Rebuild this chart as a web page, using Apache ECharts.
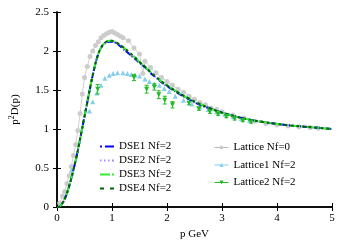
<!DOCTYPE html>
<html><head><meta charset="utf-8">
<script src="https://cdn.jsdelivr.net/npm/echarts@6/dist/echarts.min.js"></script>
<style>html,body{margin:0;padding:0;background:#fff}#c{width:350px;height:245px}</style>
</head><body><div id="c"></div>
<script>
// ---- data ----
var xTicks = [0, 1, 2, 3, 4, 5];
var yTicks = [0, 0.5, 1, 1.5, 2, 2.5];
var dseP = [0,0.05,0.1,0.15,0.2,0.25,0.3,0.35,0.4,0.45,0.5,0.55,0.6,0.65,0.7,0.75,0.8,0.85,0.9,0.95,1.0,1.05,1.1,1.2,1.3,1.4,1.5,1.6,1.7,1.8,1.9,2.0,2.2,2.4,2.6,2.8,3.0,3.25,3.5,3.75,4.0,4.25,4.5,4.75,5.0];
var dse1 = [0,0.01,0.05,0.12,0.22,0.34,0.48,0.63,0.80,0.98,1.16,1.34,1.52,1.69,1.84,1.96,2.04,2.09,2.11,2.12,2.12,2.11,2.09,2.03,1.97,1.91,1.85,1.79,1.72,1.66,1.60,1.55,1.46,1.38,1.31,1.26,1.21,1.16,1.12,1.09,1.065,1.045,1.03,1.015,1.0];
var dse2 = [0,0.01,0.05,0.12,0.22,0.34,0.48,0.63,0.80,0.98,1.16,1.34,1.52,1.69,1.84,1.96,2.04,2.09,2.11,2.12,2.12,2.11,2.09,2.03,1.97,1.91,1.85,1.79,1.72,1.66,1.60,1.55,1.46,1.38,1.31,1.26,1.21,1.16,1.12,1.09,1.065,1.045,1.03,1.015,1.0];
var dse3 = [0,0.01,0.05,0.12,0.22,0.34,0.48,0.63,0.80,0.98,1.16,1.34,1.52,1.69,1.84,1.96,2.04,2.09,2.12,2.13,2.13,2.12,2.10,2.05,1.99,1.93,1.86,1.80,1.73,1.67,1.61,1.56,1.47,1.39,1.32,1.26,1.21,1.16,1.12,1.09,1.065,1.045,1.03,1.015,1.0];
var dse4 = [0,0.01,0.05,0.12,0.22,0.34,0.48,0.63,0.80,0.98,1.16,1.34,1.52,1.69,1.84,1.96,2.04,2.09,2.12,2.13,2.13,2.12,2.10,2.05,1.99,1.93,1.86,1.80,1.73,1.67,1.61,1.56,1.47,1.39,1.32,1.26,1.21,1.16,1.12,1.09,1.065,1.045,1.03,1.015,1.0];

var lat0P = [0.05,0.1,0.14,0.18,0.22,0.26,0.3,0.34,0.38,0.42,0.46,0.5,0.55,0.6,0.65,0.7,0.75,0.8,0.85,0.9,0.95,1.0,1.05,1.1,1.15,1.2,1.3,1.4,1.5,1.56,1.6,1.7,1.8,1.9,2.0,2.1,2.2,2.3,2.4,2.5,2.6,2.7,2.8,2.9,3.0,3.2,3.4,3.6,3.8,4.0,4.2,4.4,4.6,4.75];
var lat0V = [0.05,0.14,0.20,0.30,0.40,0.52,0.66,0.80,0.98,1.20,1.45,1.66,1.80,1.93,2.00,2.07,2.12,2.17,2.20,2.22,2.24,2.25,2.23,2.21,2.19,2.17,2.13,2.04,1.96,1.71,1.87,1.79,1.72,1.66,1.61,1.56,1.51,1.47,1.42,1.38,1.34,1.31,1.27,1.25,1.22,1.18,1.14,1.10,1.07,1.05,1.04,1.03,1.02,1.01];

var lat1P = [0.27,0.59,0.65,0.72,0.8,0.87,0.95,1.02,1.1,1.2,1.28,1.35,1.42,1.5,1.6,1.68,1.77,1.86,1.95,2.04,2.15,2.3,2.45,2.6,2.75,2.9,3.05,3.2,3.35,3.5];
var lat1V = [0.47,1.23,1.35,1.46,1.56,1.65,1.69,1.71,1.72,1.72,1.71,1.70,1.69,1.68,1.64,1.61,1.58,1.56,1.52,1.48,1.42,1.37,1.32,1.28,1.25,1.22,1.19,1.16,1.13,1.11];

var lat2P = [0.74,1.40,1.63,1.77,1.85,1.96,2.10,2.40,2.58,2.78,2.93,3.08,3.23,3.38,3.53];
var lat2V = [1.51,1.66,1.51,1.54,1.44,1.37,1.31,1.33,1.26,1.22,1.19,1.16,1.13,1.11,1.09];
var lat2E = [0.06,0.04,0.05,0.04,0.05,0.05,0.04,0.02,0.02,0.02,0.015,0.015,0.015,0.015,0.015];

// ---- build ----
function zip(a, b) { return a.map(function (v, i) { return [v, b[i]]; }); }
var FONT = 'Liberation Serif';
var errData = lat2P.map(function (p, i) { return [p, lat2V[i] - lat2E[i], lat2V[i] + lat2E[i]]; });

var chart = echarts.init(document.getElementById('c'), null, {renderer: 'canvas'});
var axisCommon = {
  axisLine: {show: true, lineStyle: {color: '#000', width: 1.5}},
  axisTick: {show: true, inside: true, length: 4, lineStyle: {color: '#000', width: 1}},
  splitLine: {show: false}
};
var txt = {fontFamily: FONT, fontSize: 11, color: '#000'};
chart.setOption({
  animation: false,
  grid: {left: 53, top: 12, width: 279, height: 199, containLabel: false},
  xAxis: [
    Object.assign({type: 'value', min: 0, max: 5, interval: 1, position: 'bottom',
      name: 'p GeV', nameLocation: 'middle', nameGap: 22, nameTextStyle: txt,
      axisLabel: Object.assign({margin: 6,
        formatter: function (v) { return xTicks.indexOf(v) >= 0 ? String(v) : ''; }}, txt)}, axisCommon),
    Object.assign({type: 'value', min: 0, max: 5, interval: 1, position: 'top',
      axisLabel: {show: false}}, axisCommon)
  ],
  yAxis: [
    Object.assign({type: 'value', min: 0, max: 2.5, interval: 0.5, position: 'left',
      name: '{a|p}{s|2}{a|D(p)}', nameLocation: 'middle', nameGap: 35, nameRotate: 90,
      nameTextStyle: {rich: {a: txt,
        s: {fontFamily: FONT, fontSize: 8, color: '#000', verticalAlign: 'top', padding: [0, 0, 6, 0]}}},
      axisLabel: Object.assign({margin: 8,
        formatter: function (v) { return yTicks.indexOf(v) >= 0 ? String(v) : ''; }}, txt)}, axisCommon),
    Object.assign({type: 'value', min: 0, max: 2.5, interval: 0.5, position: 'right',
      axisLabel: {show: false}}, axisCommon)
  ],
  legend: [
    {orient: 'vertical', left: 100, top: 141, padding: 0, itemWidth: 14, itemHeight: 3, itemGap: 3,
      textStyle: txt,
      data: [
        {name: 'DSE1 Nf=2', icon: 'path://M0,0h2v2h-2z M5,0h9v2h-9z', itemStyle: {color: '#0000ff'}},
        {name: 'DSE2 Nf=2', icon: 'path://M0,0h1.5v2h-1.5z M4,0h1.5v2h-1.5z M8,0h1.5v2h-1.5z M12,0h2v2h-2z', itemStyle: {color: '#b388ff'}},
        {name: 'DSE3 Nf=2', icon: 'path://M0,0h10v2h-10z M12,0h2v2h-2z', itemStyle: {color: '#33ee33'}},
        {name: 'DSE4 Nf=2', icon: 'path://M0,0h4v2h-4z M10,0h4v2h-4z', itemStyle: {color: '#006400'}}
      ]},
    {orient: 'vertical', left: 214, top: 142, padding: 0, itemWidth: 14, itemHeight: 5, itemGap: 6.5,
      textStyle: txt,
      data: [
        {name: 'Lattice Nf=0', lineStyle: {width: 1, color: '#bbbbbb', opacity: 1}},
        {name: 'Lattice1 Nf=2', lineStyle: {width: 1, color: '#87ceeb', opacity: 1}},
        {name: 'Lattice2 Nf=2', lineStyle: {width: 1, color: '#22bb22', opacity: 1}}
      ]}
  ],
  series: [
    {name: 'Lattice Nf=0', type: 'line', data: zip(lat0P, lat0V), symbol: 'circle', symbolSize: 5,
      showAllSymbol: true, itemStyle: {color: '#cccccc'}, lineStyle: {width: 1, color: '#d0d0d0'}, z: 2},
    {name: 'Lattice1 Nf=2', type: 'line', data: zip(lat1P, lat1V), symbol: 'triangle', symbolSize: 5,
      showAllSymbol: true, itemStyle: {color: '#87ceeb'}, lineStyle: {width: 0, opacity: 0}, z: 3},
    {name: 'DSE2 Nf=2', type: 'line', data: zip(dseP, dse2), symbol: 'none', smooth: true,
      lineStyle: {color: '#b388ff', width: 2, type: [1, 2]}, z: 4},
    {name: 'DSE1 Nf=2', type: 'line', data: zip(dseP, dse1), symbol: 'none', smooth: true,
      lineStyle: {color: '#0000ff', width: 2, type: [6, 2, 1, 2]}, z: 5},
    {name: 'DSE3 Nf=2', type: 'line', data: zip(dseP, dse3), symbol: 'none', smooth: true,
      lineStyle: {color: '#33ee33', width: 2, type: [8, 3, 2, 3]}, z: 6},
    {name: 'DSE4 Nf=2', type: 'line', data: zip(dseP, dse4), symbol: 'none', smooth: true,
      lineStyle: {color: '#006400', width: 2, type: [3, 3]}, z: 7},
    {name: 'Lattice2 Nf=2', type: 'line', data: zip(lat2P, lat2V), symbol: 'triangle', symbolRotate: 180, symbolSize: 5,
      showAllSymbol: true, itemStyle: {color: '#22bb22'}, lineStyle: {width: 0, opacity: 0}, z: 9},
    {name: 'err2', type: 'custom', data: errData, z: 8,
      renderItem: function (params, api) {
        var x = api.value(0);
        var lo = api.coord([x, api.value(1)]);
        var hi = api.coord([x, api.value(2)]);
        var st = {stroke: '#22bb22', lineWidth: 1};
        return {type: 'group', children: [
          {type: 'line', shape: {x1: lo[0], y1: lo[1], x2: hi[0], y2: hi[1]}, style: st},
          {type: 'line', shape: {x1: lo[0] - 2, y1: lo[1], x2: lo[0] + 2, y2: lo[1]}, style: st},
          {type: 'line', shape: {x1: hi[0] - 2, y1: hi[1], x2: hi[0] + 2, y2: hi[1]}, style: st}
        ]};
      }}
  ]
});
</script></body></html>
